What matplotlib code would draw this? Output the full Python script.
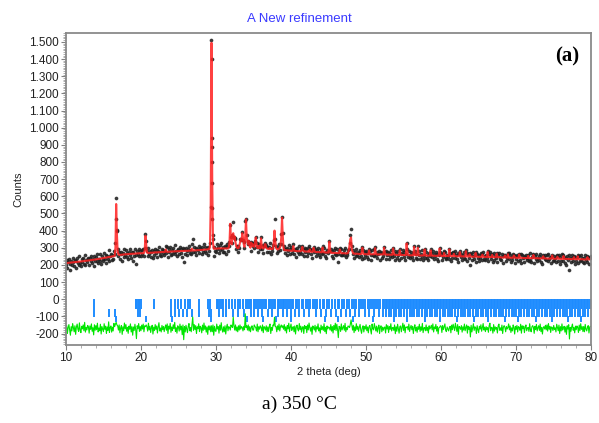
import numpy as np
import matplotlib
matplotlib.use("Agg")
import matplotlib.pyplot as plt
from matplotlib.ticker import MultipleLocator, FuncFormatter

# 2theta grid of the scan (0.1 deg step, 10 -> 80)
two_theta = np.linspace(10, 80, 701)

# observed counts, one row per degree (x.0 ... x.9), last value = 80.0
y_obs = [
    198, 229, 181, 217, 234, 205, 173, 224, 199, 243,
    218, 196, 231, 182, 225, 243, 213, 201, 251, 210,
    195, 233, 218, 242, 208, 258, 202, 230, 216, 242,
    235, 198, 241, 222, 254, 212, 234, 192, 252, 220,
    248, 225, 264, 213, 237, 222, 261, 205, 249, 235,
    221, 268, 236, 255, 213, 252, 233, 284, 222, 252,
    262, 227, 257, 235, 280, 262, 325, 590, 400, 290,
    252, 278, 232, 263, 276, 225, 269, 247, 292, 259,
    284, 245, 269, 234, 276, 259, 290, 243, 275, 225,
    273, 253, 290, 259, 206, 282, 265, 295, 250, 279,
    254, 287, 264, 294, 249, 300, 380, 340, 280, 254,
    300, 261, 283, 247, 276, 289, 239, 279, 259, 295,
    267, 287, 246, 283, 307, 259, 276, 254, 292, 267,
    286, 256, 282, 310, 267, 302, 246, 290, 273, 306,
    255, 286, 265, 299, 277, 314, 261, 283, 252, 295,
    286, 264, 305, 272, 294, 244, 301, 215, 292, 261,
    300, 279, 257, 293, 311, 269, 288, 263, 320, 350,
    273, 306, 278, 301, 255, 295, 284, 313, 267, 299,
    291, 261, 307, 276, 319, 283, 303, 268, 298, 256,
    305, 283, 325, 540, 1510, 680, 350, 254, 306, 280,
    278, 320, 291, 306, 268, 315, 285, 329, 290, 274,
    305, 276, 311, 263, 302, 320, 282, 310, 335, 430,
    365, 330, 375, 450, 365, 355, 350, 295, 308, 278,
    313, 300, 350, 345, 350, 390, 345, 332, 297, 455,
    470, 375, 320, 340, 325, 320, 280, 335, 325, 310,
    300, 325, 340, 365, 305, 325, 278, 320, 295, 311,
    360, 295, 318, 271, 310, 325, 310, 315, 275, 302,
    275, 305, 325, 263, 298, 280, 315, 345, 465, 350,
    310, 272, 306, 283, 320, 285, 320, 380, 480, 385,
    295, 308, 272, 294, 258, 301, 281, 314, 265, 290,
    307, 270, 287, 320, 265, 295, 248, 289, 299, 274,
    265, 308, 273, 293, 263, 310, 295, 249, 296, 276,
    290, 253, 298, 268, 308, 295, 261, 284, 241, 290,
    305, 275, 294, 254, 284, 271, 301, 260, 277, 246,
    293, 266, 312, 268, 300, 254, 278, 241, 286, 269,
    279, 340, 280, 293, 254, 281, 243, 287, 262, 300,
    256, 293, 264, 215, 281, 298, 257, 294, 259, 271,
    284, 257, 296, 247, 272, 259, 284, 295, 325, 374,
    409, 310, 265, 284, 241, 274, 251, 292, 259, 277,
    247, 270, 287, 254, 235, 305, 285, 242, 274, 259,
    283, 248, 270, 236, 295, 279, 255, 229, 287, 260,
    253, 290, 303, 255, 274, 239, 265, 280, 231, 271,
    276, 241, 268, 250, 305, 278, 233, 282, 256, 276,
    236, 271, 253, 286, 244, 262, 301, 253, 279, 228,
    267, 241, 282, 255, 230, 295, 272, 238, 264, 288,
    245, 277, 231, 265, 330, 290, 248, 282, 238, 260,
    273, 248, 268, 226, 310, 281, 241, 263, 233, 310,
    256, 279, 237, 264, 244, 284, 230, 258, 295, 241,
    274, 241, 260, 227, 269, 250, 290, 272, 245, 280,
    232, 261, 251, 276, 237, 264, 221, 257, 300, 275,
    265, 228, 269, 245, 280, 278, 241, 233, 260, 249,
    236, 295, 268, 225, 270, 243, 275, 270, 238, 281,
    257, 232, 272, 215, 261, 280, 244, 266, 228, 259,
    239, 274, 235, 285, 269, 221, 262, 243, 270, 199,
    266, 227, 252, 275, 236, 257, 275, 218, 264, 241,
    222, 259, 243, 268, 230, 265, 275, 237, 254, 228,
    256, 238, 280, 223, 261, 276, 232, 252, 262, 218,
    267, 229, 254, 240, 270, 218, 259, 270, 234, 248,
    230, 262, 213, 251, 259, 260, 223, 254, 239, 267,
    268, 233, 256, 218, 245, 227, 262, 260, 209, 254,
    235, 258, 220, 251, 265, 230, 265, 213, 256, 239,
    253, 215, 247, 260, 226, 242, 257, 222, 267, 231,
    219, 248, 255, 263, 210, 251, 232, 262, 224, 243,
    253, 226, 263, 219, 244, 205, 255, 248, 234, 256,
    228, 257, 221, 265, 232, 248, 213, 245, 260, 224,
    253, 229, 239, 215, 260, 253, 222, 255, 206, 246,
    220, 261, 225, 257, 247, 213, 243, 200, 250, 231,
    255, 172, 240, 217, 243, 259, 223, 250, 208, 247,
    225, 247, 255, 209, 252, 220, 260, 227, 243, 214,
    243, 212, 255, 228, 217, 250, 248, 205, 240, 247,
    250,
]

# calculated profile on the same grid
y_calc = [
    210, 211, 211, 212, 212, 213, 213, 214, 214, 215,
    215, 216, 216, 217, 217, 218, 218, 219, 219, 220,
    220, 221, 221, 222, 222, 223, 224, 224, 225, 225,
    226, 226, 227, 228, 228, 229, 230, 230, 231, 231,
    232, 233, 234, 234, 235, 236, 237, 238, 238, 239,
    240, 241, 242, 242, 243, 244, 245, 246, 246, 247,
    248, 249, 250, 250, 251, 252, 300, 555, 380, 275,
    262, 258, 258, 259, 259, 260, 260, 261, 261, 262,
    262, 262, 263, 263, 263, 264, 264, 264, 265, 265,
    265, 265, 266, 266, 266, 267, 267, 267, 268, 268,
    268, 268, 268, 269, 269, 285, 370, 320, 272, 270,
    270, 270, 271, 271, 271, 271, 272, 272, 272, 273,
    273, 273, 273, 274, 274, 274, 274, 275, 275, 275,
    275, 275, 276, 290, 278, 276, 276, 277, 277, 277,
    278, 278, 278, 278, 279, 279, 279, 279, 280, 280,
    280, 280, 280, 281, 281, 281, 281, 281, 282, 282,
    282, 282, 282, 282, 283, 283, 283, 283, 295, 284,
    284, 284, 285, 285, 285, 286, 286, 286, 286, 287,
    287, 287, 288, 288, 288, 289, 289, 290, 290, 291,
    291, 292, 310, 560, 1495, 700, 330, 294, 294, 295,
    295, 295, 295, 296, 296, 296, 296, 296, 296, 296,
    296, 296, 296, 296, 296, 296, 296, 300, 330, 440,
    345, 320, 370, 385, 350, 365, 330, 310, 300, 298,
    298, 310, 330, 350, 340, 385, 360, 320, 305, 370,
    465, 360, 330, 320, 340, 310, 300, 330, 310, 320,
    310, 305, 330, 360, 320, 300, 298, 310, 300, 296,
    355, 310, 298, 296, 300, 320, 320, 300, 295, 294,
    293, 293, 300, 293, 292, 292, 295, 330, 400, 340,
    300, 292, 291, 291, 295, 300, 310, 360, 475, 370,
    300, 286, 286, 285, 285, 285, 284, 284, 284, 283,
    282, 282, 282, 310, 285, 281, 281, 281, 280, 280,
    280, 280, 280, 280, 285, 305, 285, 279, 279, 278,
    278, 278, 278, 277, 277, 290, 277, 277, 276, 276,
    300, 285, 276, 275, 275, 275, 275, 275, 274, 274,
    274, 273, 302, 280, 273, 273, 272, 272, 272, 272,
    271, 335, 290, 271, 270, 270, 270, 270, 270, 270,
    269, 269, 269, 269, 269, 290, 275, 268, 268, 268,
    268, 268, 267, 267, 267, 267, 270, 285, 320, 350,
    360, 290, 275, 266, 266, 265, 265, 265, 265, 265,
    264, 264, 264, 264, 264, 300, 270, 263, 263, 263,
    262, 262, 262, 262, 285, 262, 262, 262, 262, 262,
    262, 262, 298, 270, 261, 261, 261, 261, 261, 261,
    261, 261, 261, 261, 300, 270, 260, 260, 260, 260,
    260, 260, 259, 259, 259, 259, 296, 265, 259, 259,
    258, 258, 258, 258, 258, 285, 258, 258, 258, 258,
    257, 257, 257, 257, 325, 280, 257, 257, 256, 256,
    256, 256, 256, 256, 305, 260, 256, 256, 256, 300,
    262, 255, 255, 255, 255, 255, 255, 255, 290, 255,
    254, 254, 254, 254, 254, 254, 285, 254, 254, 254,
    253, 253, 253, 253, 253, 253, 253, 253, 295, 260,
    252, 252, 252, 252, 270, 252, 252, 252, 252, 252,
    251, 290, 256, 251, 251, 251, 251, 265, 251, 251,
    250, 250, 250, 250, 250, 275, 250, 250, 250, 250,
    249, 249, 249, 280, 249, 249, 249, 249, 262, 249,
    248, 248, 248, 248, 248, 248, 270, 248, 248, 248,
    247, 247, 247, 247, 247, 260, 247, 247, 247, 247,
    246, 246, 275, 246, 246, 246, 246, 246, 258, 246,
    245, 245, 245, 245, 265, 245, 245, 245, 245, 245,
    243, 243, 243, 243, 243, 255, 243, 243, 243, 262,
    242, 242, 242, 242, 242, 242, 242, 255, 242, 242,
    241, 241, 241, 241, 260, 241, 241, 241, 241, 241,
    240, 240, 240, 240, 240, 240, 252, 240, 240, 240,
    239, 239, 239, 258, 239, 239, 239, 239, 239, 239,
    238, 238, 238, 238, 238, 238, 250, 238, 238, 238,
    237, 237, 237, 237, 237, 237, 237, 237, 255, 237,
    236, 236, 236, 236, 236, 248, 236, 236, 236, 236,
    235, 235, 235, 252, 235, 235, 235, 235, 235, 235,
    234, 234, 234, 234, 234, 234, 234, 245, 234, 234,
    233, 233, 250, 233, 233, 233, 233, 233, 233, 233,
    232, 232, 232, 232, 232, 245, 232, 232, 232, 235,
    240,
]

# extra observed points on the flanks of the two sharpest peaks
peak_tt = [16.73, 16.76, 29.42, 29.46, 29.47, 29.48, 29.52, 29.53, 29.55]
peak_counts = [470, 405, 1400, 940, 890, 800, 530, 470, 375]

diff_offset = -170

# Bragg reflection positions (three rows of markers)
refl_a = [13.8, 19.3, 19.4, 19.5, 19.7, 19.8, 20.0, 21.8, 24.0, 24.6, 24.9,
          25.3, 25.9, 26.3, 26.6, 27.7, 29.0, 29.2, 30.1, 30.3, 30.5, 30.8,
          31.0, 31.3, 31.7, 32.1, 32.5, 32.9, 33.2, 33.6, 34.0, 34.2, 34.5,
          34.7, 35.0, 35.2, 35.5, 35.7, 36.0, 36.2, 36.5, 36.7, 37.0, 37.2,
          37.4, 37.7, 37.9, 38.2, 38.4, 38.6, 38.9, 39.1, 39.3, 39.6, 39.8,
          40.1, 40.3, 40.6, 40.8, 41.1, 41.4, 41.6, 42.0, 42.3, 42.5, 42.9,
          43.2, 43.5, 43.9, 44.2, 44.4, 44.8, 45.1, 45.5, 45.8, 46.2, 46.4,
          46.8, 47.1, 47.5, 47.7, 48.1, 48.4, 48.7, 49.0, 49.3, 49.6, 49.9,
          50.2, 50.5, 50.8, 51.1, 51.3, 51.6, 51.9, 52.2, 52.4, 52.6, 52.8,
          53.0, 53.2, 53.4, 53.6, 53.8, 54.0, 54.2, 54.4, 54.6, 54.8, 55.0,
          55.2, 55.4, 55.6, 55.8, 56.0, 56.2, 56.4, 56.6, 56.8, 57.0, 57.2,
          57.4, 57.6, 57.8, 58.0, 58.2, 58.4, 58.6, 58.8, 59.0, 59.2, 59.4,
          59.6, 59.8, 60.0, 60.2, 60.4, 60.6, 60.8, 61.0, 61.2, 61.4, 61.6,
          61.8, 62.0, 62.2, 62.4, 62.6, 62.8, 63.0, 63.2, 63.4, 63.6, 63.8,
          64.0, 64.2, 64.4, 64.6, 64.8, 65.0, 65.2, 65.4, 65.6, 65.8, 66.0,
          66.2, 66.4, 66.6, 66.8, 67.0, 67.2, 67.4, 67.6, 67.8, 68.0, 68.2,
          68.4, 68.6, 68.8, 69.0, 69.2, 69.4, 69.6, 69.8, 70.0, 70.2, 70.4,
          70.6, 70.8, 71.0, 71.2, 71.4, 71.6, 71.8, 72.0, 72.2, 72.4, 72.6,
          72.8, 73.0, 73.2, 73.4, 73.6, 73.8, 74.0, 74.2, 74.4, 74.6, 74.8,
          75.0, 75.2, 75.4, 75.6, 75.8, 76.0, 76.2, 76.4, 76.6, 76.8, 77.0,
          77.2, 77.4, 77.6, 77.8, 78.0, 78.2, 78.4, 78.6, 78.8, 79.0, 79.2,
          79.4, 79.6, 79.8]
refl_b = [13.8, 15.8, 16.6, 19.6, 19.9, 24.0, 24.5, 25.1, 25.6, 26.2, 26.8,
          27.7, 29.1, 29.4, 30.4, 30.9, 31.4, 32.3, 33.0, 33.8, 34.6, 35.1,
          35.6, 36.1, 36.9, 37.5, 38.3, 38.9, 39.4, 40.0, 40.5, 41.0, 41.7,
          42.4, 43.3, 44.0, 44.6, 45.3, 46.0, 46.6, 47.3, 47.9, 48.5, 49.1,
          49.8, 50.4, 51.0, 51.7, 52.3, 52.7, 53.0, 53.3, 53.7, 54.0, 54.4,
          54.7, 55.0, 55.4, 55.8, 56.1, 56.4, 56.8, 57.1, 57.5, 57.8, 58.1,
          58.5, 58.8, 59.2, 59.5, 59.8, 60.2, 60.5, 60.9, 61.2, 61.5, 61.9,
          62.2, 62.6, 62.9, 63.2, 63.6, 63.9, 64.3, 64.6, 64.9, 65.3, 65.6,
          66.0, 66.3, 66.6, 67.0, 67.3, 67.7, 68.0, 68.3, 68.7, 69.0, 69.4,
          69.7, 70.0, 70.4, 70.7, 71.1, 71.4, 71.7, 72.1, 72.4, 72.8, 73.1,
          73.4, 73.8, 74.1, 74.5, 74.8, 75.1, 75.5, 75.8, 76.2, 76.5, 76.8,
          77.2, 77.5, 77.9, 78.2, 78.5, 78.9, 79.2, 79.6]
refl_c = [16.7, 20.7, 24.1, 29.4, 34.1, 36.3, 38.0, 40.0, 44.5, 46.3, 48.2,
          50.9, 53.7, 55.4, 57.9, 59.8, 62.1, 64.4, 66.2, 68.5, 70.3, 72.6,
          74.8, 76.9, 78.7]

y_obs = np.array(y_obs)
y_calc = np.array(y_calc)
y_diff = y_obs - y_calc + diff_offset

plt.rcParams['font.family'] = ['Liberation Sans', 'DejaVu Sans']

fig = plt.figure(figsize=(5.99, 4.23), dpi=100)
ax = fig.add_axes([0.110, 0.184, 0.877, 0.738])

blue = '#1e8cff'
ax.vlines(refl_a, -55, 4, colors=blue, linewidth=1.4)
ax.vlines(refl_b, -105, -55, colors=blue, linewidth=1.4)
ax.vlines(refl_c, -135, -100, colors=blue, linewidth=1.4)

ax.plot(two_theta, y_diff, color='#00e600', linewidth=0.8)

ax.plot(two_theta, y_obs, linestyle='none', marker='o', markersize=1.7,
        color='#202020', alpha=0.8)
ax.plot(peak_tt, peak_counts, linestyle='none', marker='o', markersize=1.7,
        color='#202020', alpha=0.8)
ax.plot(two_theta, y_calc, color='#ff2020', linewidth=1.5, alpha=0.85)

ax.set_xlim(10, 80)
ax.set_ylim(-268, 1552)
ax.xaxis.set_major_locator(MultipleLocator(10))
ax.xaxis.set_minor_locator(MultipleLocator(2))
ax.yaxis.set_major_locator(MultipleLocator(100))
ax.yaxis.set_minor_locator(MultipleLocator(10))
ax.yaxis.set_major_formatter(FuncFormatter(lambda v, p: f"{int(round(v)):,}".replace(",", ".")))

ax.tick_params(axis='both', which='major', labelsize=8.5, length=3.5,
               width=0.8, color='#808080', labelcolor='#222222', pad=1.5)
ax.tick_params(axis='both', which='minor', length=2, width=0.6, color='#a0a0a0')
for s in ax.spines.values():
    s.set_color('#8a8a8a')
    s.set_linewidth(1.3)

ax.set_xlabel('2 theta (deg)', fontsize=8, color='#222222', labelpad=2)
ax.set_ylabel('Counts', fontsize=8, color='#222222', labelpad=4)

fig.text(0.5, 0.956, 'A New refinement', ha='center', va='center',
         fontsize=9.5, color='#3a3aff')
ax.text(0.977, 0.925, '(a)', transform=ax.transAxes, ha='right', va='center',
        fontsize=15, fontweight='bold', family='Liberation Serif')
fig.text(0.5, 0.043, 'a) 350 °C', ha='center', va='center', fontsize=14,
         family='Liberation Serif')

fig.savefig('out.png', dpi=100)
